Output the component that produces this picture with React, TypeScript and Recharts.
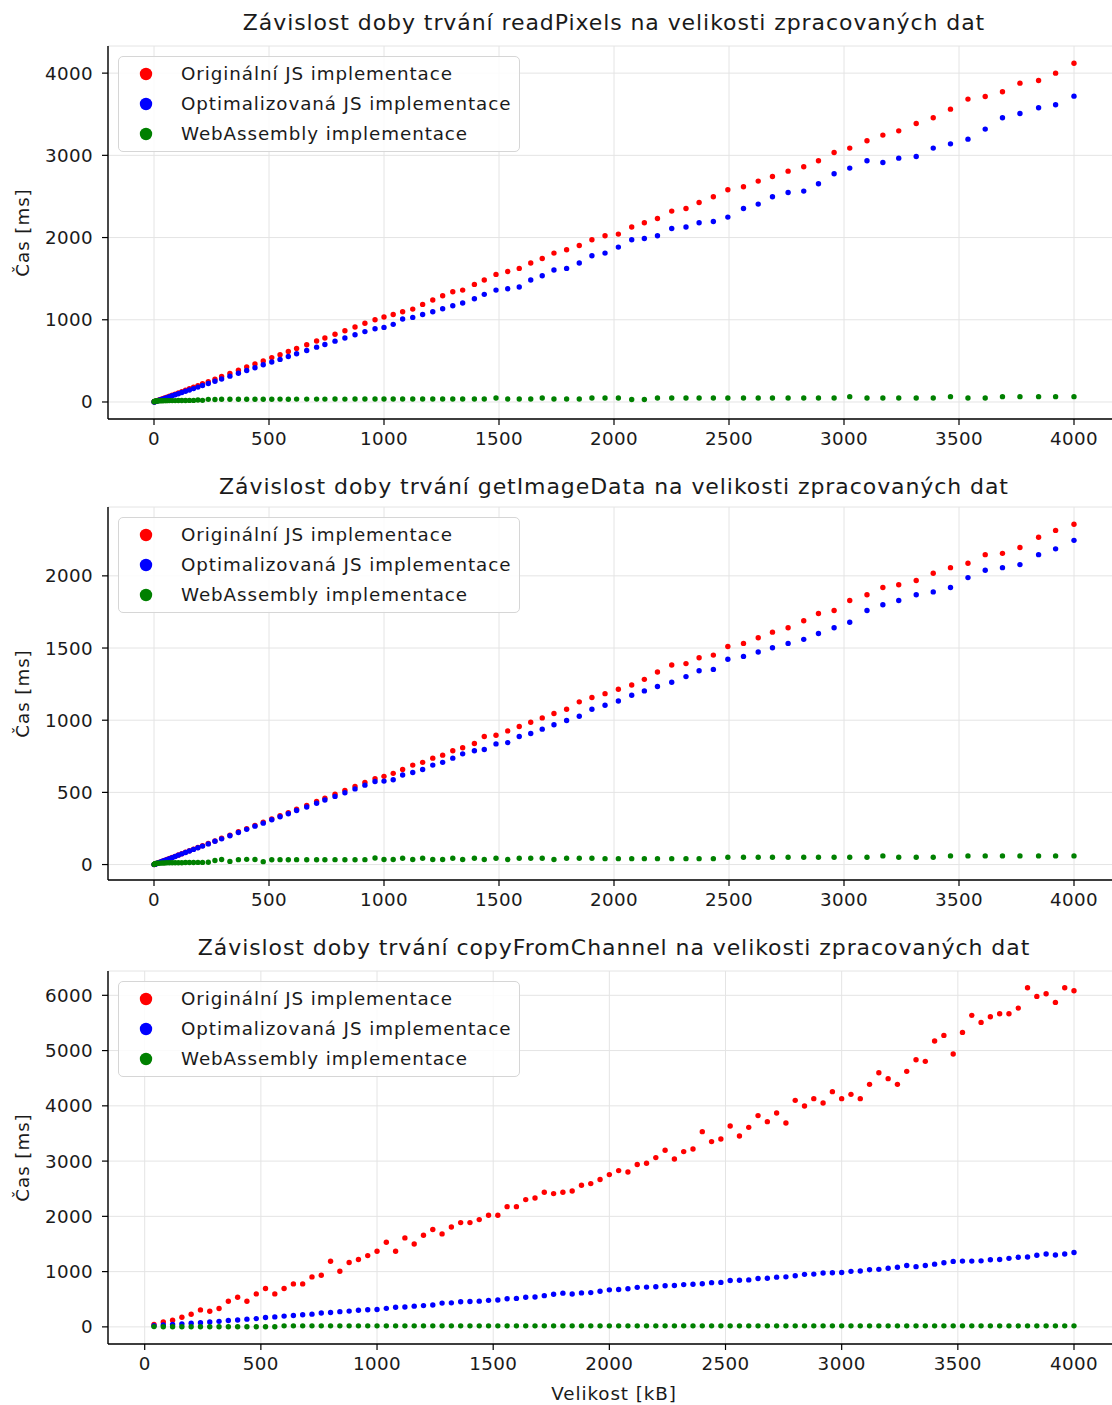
import React from 'react';
import { ScatterChart, Scatter, XAxis, YAxis, CartesianGrid, Legend, Label } from 'recharts';

// ---------- data ----------
const xSizesA = [
  0.5, 2, 4, 7, 11, 16, 22, 29, 37, 46, 56, 67, 79, 92, 106, 121, 137, 154, 172, 191, 211,
  236, 265, 294, 330, 367, 403, 439, 475, 512, 548, 584, 620, 664, 707, 743, 787, 830, 874, 917, 961,
  1000, 1040, 1081, 1125, 1168, 1212, 1255, 1299, 1342, 1393, 1436, 1487, 1538, 1588, 1638, 1688, 1739, 1794, 1849, 1904,
  1961, 2019, 2077, 2132, 2189, 2251, 2313, 2370, 2432, 2495, 2563, 2627, 2689, 2757, 2825, 2889, 2957, 3025, 3100, 3169,
  3238, 3314, 3388, 3463, 3539, 3614, 3689, 3765, 3846, 3920, 4000,
];

const readPixelsOrig = [
  2, 3, 5, 8, 12, 17, 24, 30, 39, 48, 59, 70, 83, 96, 111, 126, 142, 161, 179, 198, 221,
  248, 278, 310, 347, 386, 425, 462, 499, 540, 576, 614, 652, 697, 741, 779, 823, 866, 912, 958, 1001,
  1033, 1065, 1098, 1130, 1187, 1240, 1292, 1341, 1361, 1430, 1483, 1552, 1588, 1625, 1690, 1746, 1811, 1852, 1904, 1973,
  2022, 2042, 2128, 2180, 2232, 2322, 2354, 2427, 2496, 2581, 2618, 2687, 2743, 2808, 2861, 2934, 3035, 3088, 3177, 3246,
  3298, 3388, 3457, 3562, 3684, 3716, 3773, 3878, 3910, 4000, 4121,
];
const readPixelsOpt = [
  1, 2, 4, 7, 10, 15, 21, 27, 35, 44, 53, 64, 75, 88, 101, 115, 130, 146, 163, 181, 200,
  224, 252, 280, 314, 349, 383, 417, 452, 486, 518, 553, 586, 627, 667, 699, 740, 778, 818, 856, 890,
  907, 944, 1009, 1029, 1065, 1098, 1134, 1171, 1204, 1256, 1309, 1361, 1378, 1398, 1483, 1536, 1605, 1625, 1690, 1779,
  1811, 1884, 1973, 1989, 2022, 2111, 2128, 2180, 2196, 2249, 2354, 2407, 2496, 2548, 2565, 2654, 2776, 2845, 2934, 2913,
  2966, 2986, 3088, 3140, 3197, 3319, 3457, 3509, 3578, 3615, 3720,
];
const readPixelsWasm = [
  2, 5, 8, 10, 12, 13, 14, 15, 15, 16, 16, 17, 17, 17, 18, 18, 18, 19, 19, 25, 20,
  32, 30, 33, 33, 34, 33, 34, 34, 34, 35, 34, 35, 35, 35, 35, 36, 35, 36, 36, 36,
  36, 36, 36, 36, 36, 36, 36, 36, 36, 36, 36, 48, 36, 36, 36, 48, 36, 36, 36, 48,
  49, 49, 30, 30, 49, 49, 49, 49, 49, 49, 49, 49, 49, 49, 49, 49, 49, 65, 49, 49,
  49, 49, 49, 65, 49, 49, 65, 65, 65, 65, 65,
];

const getImageDataOrig = [
  0.5, 1, 3, 4, 7, 10, 14, 18, 23, 29, 35, 42, 49, 57, 66, 75, 85, 96, 107, 118, 131,
  146, 164, 182, 204, 227, 249, 271, 293, 316, 338, 360, 383, 410, 437, 460, 487, 514, 541, 568, 594,
  611, 632, 659, 689, 708, 737, 758, 788, 809, 839, 887, 896, 926, 956, 986, 1016, 1046, 1076, 1127, 1157,
  1184, 1214, 1244, 1283, 1334, 1382, 1392, 1433, 1451, 1511, 1532, 1571, 1610, 1640, 1689, 1739, 1760, 1829, 1869, 1919,
  1938, 1968, 2018, 2057, 2087, 2147, 2156, 2196, 2267, 2315, 2357,
];
const getImageDataOpt = [
  0.5, 1, 2, 4, 7, 10, 13, 18, 23, 28, 34, 41, 48, 56, 65, 74, 84, 94, 105, 116, 128,
  143, 161, 178, 200, 222, 244, 266, 287, 310, 331, 352, 374, 399, 425, 447, 472, 497, 524, 550, 575,
  578, 587, 620, 638, 659, 689, 708, 737, 767, 788, 797, 836, 845, 887, 908, 938, 968, 998, 1027, 1076,
  1104, 1133, 1173, 1203, 1233, 1263, 1302, 1343, 1352, 1422, 1442, 1472, 1502, 1532, 1560, 1601, 1640, 1679, 1760, 1800,
  1829, 1869, 1889, 1919, 1988, 2039, 2057, 2078, 2147, 2187, 2246,
];
const getImageDataWasm = [
  1, 3, 5, 7, 8, 9, 10, 10, 11, 11, 12, 12, 12, 13, 13, 13, 14, 14, 14, 15, 15,
  16, 28, 35, 22, 34, 36, 35, 20, 33, 34, 33, 34, 33, 33, 33, 34, 33, 33, 34, 45,
  35, 35, 44, 35, 44, 35, 35, 44, 35, 44, 35, 44, 35, 44, 44, 44, 35, 44, 44, 44,
  41, 41, 41, 41, 41, 41, 41, 41, 41, 51, 51, 51, 51, 51, 51, 51, 51, 51, 51, 60,
  51, 51, 51, 60, 60, 60, 60, 60, 60, 60, 60,
];

const xSizesB = [
  40, 80, 120, 160, 200, 240, 280, 320, 360, 400, 440, 480, 520, 560, 600, 640, 680, 720, 760, 800,
  840, 880, 920, 960, 1000, 1040, 1080, 1120, 1160, 1200, 1240, 1280, 1320, 1360, 1400, 1440, 1480, 1520, 1560, 1600,
  1640, 1680, 1720, 1760, 1800, 1840, 1880, 1920, 1960, 2000, 2040, 2080, 2120, 2160, 2200, 2240, 2280, 2320, 2360, 2400,
  2440, 2480, 2520, 2560, 2600, 2640, 2680, 2720, 2760, 2800, 2840, 2880, 2920, 2960, 3000, 3040, 3080, 3120, 3160, 3200,
  3240, 3280, 3320, 3360, 3400, 3440, 3480, 3520, 3560, 3600, 3640, 3680, 3720, 3760, 3800, 3840, 3880, 3920, 3960, 4000,
];
const copyOrig = [
  43, 90, 121, 175, 229, 307, 284, 332, 464, 537, 464, 597, 694, 597, 694, 778, 778, 904, 935, 1188,
  1007, 1164, 1218, 1290, 1369, 1531, 1369, 1610, 1501, 1658, 1761, 1682, 1808, 1887, 1887, 1941, 2019, 2019, 2176, 2176,
  2303, 2333, 2435, 2412, 2435, 2459, 2562, 2593, 2668, 2756, 2828, 2803, 2937, 2960, 3063, 3195, 3038, 3172, 3219, 3533,
  3353, 3400, 3635, 3454, 3611, 3823, 3714, 3870, 3689, 4099, 3996, 4130, 4051, 4257, 4130, 4208, 4130, 4389, 4600, 4492,
  4389, 4624, 4835, 4805, 5172, 5275, 4937, 5329, 5637, 5510, 5613, 5667, 5667, 5769, 6137, 5980, 6029, 5872, 6137, 6083,
];
const copyOpt = [
  20, 35, 45, 55, 65, 75, 90, 100, 115, 125, 140, 150, 170, 180, 195, 205, 220, 230, 250, 260,
  275, 285, 300, 310, 315, 335, 355, 360, 375, 385, 395, 430, 435, 455, 460, 465, 480, 485, 510, 515,
  535, 540, 565, 590, 610, 595, 615, 620, 645, 670, 675, 690, 715, 720, 725, 745, 750, 765, 770, 780,
  800, 805, 840, 845, 850, 875, 880, 900, 905, 925, 950, 955, 975, 980, 985, 1005, 1010, 1035, 1040, 1060,
  1080, 1110, 1090, 1110, 1135, 1160, 1185, 1190, 1190, 1195, 1215, 1220, 1240, 1260, 1265, 1295, 1320, 1300, 1320, 1345,
];
const copyWasm = [
  5, 3, 3, 3, 3, 3, 2, 2, 2, 2, 2, 2, 2, 2, 18, 18, 18, 18, 18, 18,
  18, 18, 18, 18, 18, 18, 18, 18, 18, 18, 18, 18, 18, 18, 18, 18, 18, 18, 18, 18,
  18, 18, 18, 18, 18, 18, 18, 18, 18, 18, 18, 18, 18, 18, 18, 18, 18, 18, 18, 18,
  18, 18, 18, 18, 18, 18, 18, 18, 18, 18, 18, 18, 18, 18, 18, 18, 18, 18, 18, 18,
  18, 18, 18, 18, 18, 18, 18, 18, 18, 18, 18, 18, 18, 18, 18, 18, 18, 18, 18, 18,
];

const xTicks = [0, 500, 1000, 1500, 2000, 2500, 3000, 3500, 4000];
const yTicksA = [0, 1000, 2000, 3000, 4000];
const yTicksB = [0, 500, 1000, 1500, 2000];
const yTicksC = [0, 1000, 2000, 3000, 4000, 5000, 6000];

const seriesNames = ['Originální JS implementace', 'Optimalizovaná JS implementace', 'WebAssembly implementace'];
const seriesColors = ['#ff0000', '#0000ff', '#008000'];

const titles = [
  'Závislost doby trvání readPixels na velikosti zpracovaných dat',
  'Závislost doby trvání getImageData na velikosti zpracovaných dat',
  'Závislost doby trvání copyFromChannel na velikosti zpracovaných dat',
];

// ---------- helpers ----------
const FONT = '"DejaVu Sans", Verdana, sans-serif';
const TEXT = '#1a1a1a';
const LS = 0.92;

const toPoints = (xs: number[], ys: number[]) => xs.map((x, i) => ({ x, y: ys[i] }));

const Dot = (color: string) => (props: any) => {
  const { cx, cy } = props;
  if (cx == null || cy == null) return <g />;
  return <circle cx={cx} cy={cy} r={2.7} fill={color} />;
};

const LegendBox = () => (
  <div
    style={{
      width: 402,
      height: 96,
      border: '1px solid #d6d6d6',
      borderRadius: 5,
      background: 'rgba(255,255,255,0.85)',
      boxSizing: 'border-box',
      position: 'relative',
      fontFamily: FONT,
    }}
  >
    {seriesNames.map((n, i) => (
      <div key={n} style={{ position: 'absolute', left: 0, top: 2 + i * 30, height: 30, width: 400 }}>
        <svg width={20} height={20} style={{ position: 'absolute', left: 17, top: 5 }}>
          <circle cx={10} cy={10} r={6.2} fill={seriesColors[i]} />
        </svg>
        <span
          style={{
            position: 'absolute',
            left: 62,
            top: 3,
            fontSize: 18.3,
            lineHeight: '24px',
            letterSpacing: LS,
            color: TEXT,
            whiteSpace: 'nowrap',
          }}
        >
          {n}
        </span>
      </div>
    ))}
  </div>
);

const YLabel = (props: any) => {
  const vb = props.viewBox || {};
  const cx = 22;
  const cy = (vb.y || 0) + (vb.height || 0) / 2;
  return (
    <text
      x={cx}
      y={cy}
      transform={`rotate(-90, ${cx}, ${cy})`}
      textAnchor="middle"
      dominantBaseline="central"
      fontSize={18.3}
      fontFamily={FONT}
      letterSpacing={LS}
      fill={TEXT}
    >
      Čas [ms]
    </text>
  );
};

const XLabel = (props: any) => {
  const vb = props.viewBox || {};
  const cx = (vb.x || 0) + (vb.width || 0) / 2;
  const cy = (vb.y || 0) + 49;
  return (
    <text
      x={cx}
      y={cy}
      textAnchor="middle"
      dominantBaseline="central"
      fontSize={18.3}
      fontFamily={FONT}
      letterSpacing={LS}
      fill={TEXT}
    >
      Velikost [kB]
    </text>
  );
};

type PanelProps = {
  top: number;
  xs: number[];
  series: number[][];
  xDomain: [number, number];
  yDomain: [number, number];
  yTicks: number[];
  withXLabel?: boolean;
};

const PLOT_H = 373;
const MARGIN_TOP = 10;

const Panel = ({ top, xs, series, xDomain, yDomain, yTicks, withXLabel }: PanelProps) => {
  const xAxisH = withXLabel ? 70 : 40;
  const h = MARGIN_TOP + PLOT_H + xAxisH;
  const tickStyle = { fontSize: 18.3, fill: TEXT, fontFamily: FONT, letterSpacing: 0.4 };
  return (
    <div style={{ position: 'absolute', left: 0, top, width: 1130, height: h }}>
      <ScatterChart width={1130} height={h} margin={{ top: MARGIN_TOP, right: 10, bottom: 0, left: 0 }}>
        <CartesianGrid stroke="#e4e4e4" strokeWidth={1} />
        <XAxis
          type="number"
          dataKey="x"
          domain={xDomain}
          ticks={xTicks}
          allowDataOverflow
          height={xAxisH}
          tick={tickStyle}
          tickSize={6}
          tickMargin={7}
          tickLine={{ stroke: '#000', strokeWidth: 1.2 }}
          axisLine={{ stroke: '#000', strokeWidth: 1.4 }}
        >
          {withXLabel ? <Label content={XLabel} /> : null}
        </XAxis>
        <XAxis
          xAxisId="top"
          orientation="top"
          type="number"
          domain={xDomain}
          allowDataOverflow
          height={0}
          tick={false}
          tickLine={false}
          axisLine={{ stroke: '#000', strokeWidth: 1.4 }}
        />
        <YAxis
          type="number"
          dataKey="y"
          domain={yDomain}
          ticks={yTicks}
          allowDataOverflow
          width={108}
          tick={tickStyle}
          tickSize={6}
          tickMargin={9}
          tickLine={{ stroke: '#000', strokeWidth: 1.2 }}
          axisLine={{ stroke: '#000', strokeWidth: 1.4 }}
        >
          <Label content={YLabel} />
        </YAxis>
        <Legend
          layout="vertical"
          align="center"
          verticalAlign="middle"
          content={() => <LegendBox />}
          wrapperStyle={{ position: 'absolute', top: 20, left: 118, width: 402, height: 96, margin: 0 }}
        />
        {series.map((ys, i) => (
          <Scatter
            key={seriesNames[i]}
            name={seriesNames[i]}
            data={toPoints(xs, ys)}
            fill={seriesColors[i]}
            shape={Dot(seriesColors[i])}
            isAnimationActive={false}
          />
        ))}
      </ScatterChart>
    </div>
  );
};

const Title = ({ text, cy }: { text: string; cy: number }) => (
  <div
    style={{
      position: 'absolute',
      left: 108,
      width: 1012,
      top: cy - 14,
      height: 28,
      lineHeight: '28px',
      textAlign: 'center',
      fontFamily: FONT,
      fontSize: 22,
      letterSpacing: LS,
      color: TEXT,
      whiteSpace: 'nowrap',
    }}
  >
    {text}
  </div>
);

export default function App() {
  return (
    <div
      style={{
        position: 'absolute',
        left: 0,
        top: 0,
        width: 1112,
        height: 1405,
        overflow: 'hidden',
        background: '#fff',
      }}
    >
      <Title text={titles[0]} cy={23} />
      <Title text={titles[1]} cy={487} />
      <Title text={titles[2]} cy={948} />
      <Panel
        top={46 - MARGIN_TOP}
        xs={xSizesA}
        series={[readPixelsOrig, readPixelsOpt, readPixelsWasm]}
        xDomain={[-200, 4200]}
        yDomain={[-207, 4330]}
        yTicks={yTicksA}
      />
      <Panel
        top={507 - MARGIN_TOP}
        xs={xSizesA}
        series={[getImageDataOrig, getImageDataOpt, getImageDataWasm]}
        xDomain={[-200, 4200]}
        yDomain={[-107, 2477]}
        yTicks={yTicksB}
      />
      <Panel
        top={971 - MARGIN_TOP}
        xs={xSizesB}
        series={[copyOrig, copyOpt, copyWasm]}
        xDomain={[-158, 4198]}
        yDomain={[-310, 6440]}
        yTicks={yTicksC}
        withXLabel
      />
    </div>
  );
}
